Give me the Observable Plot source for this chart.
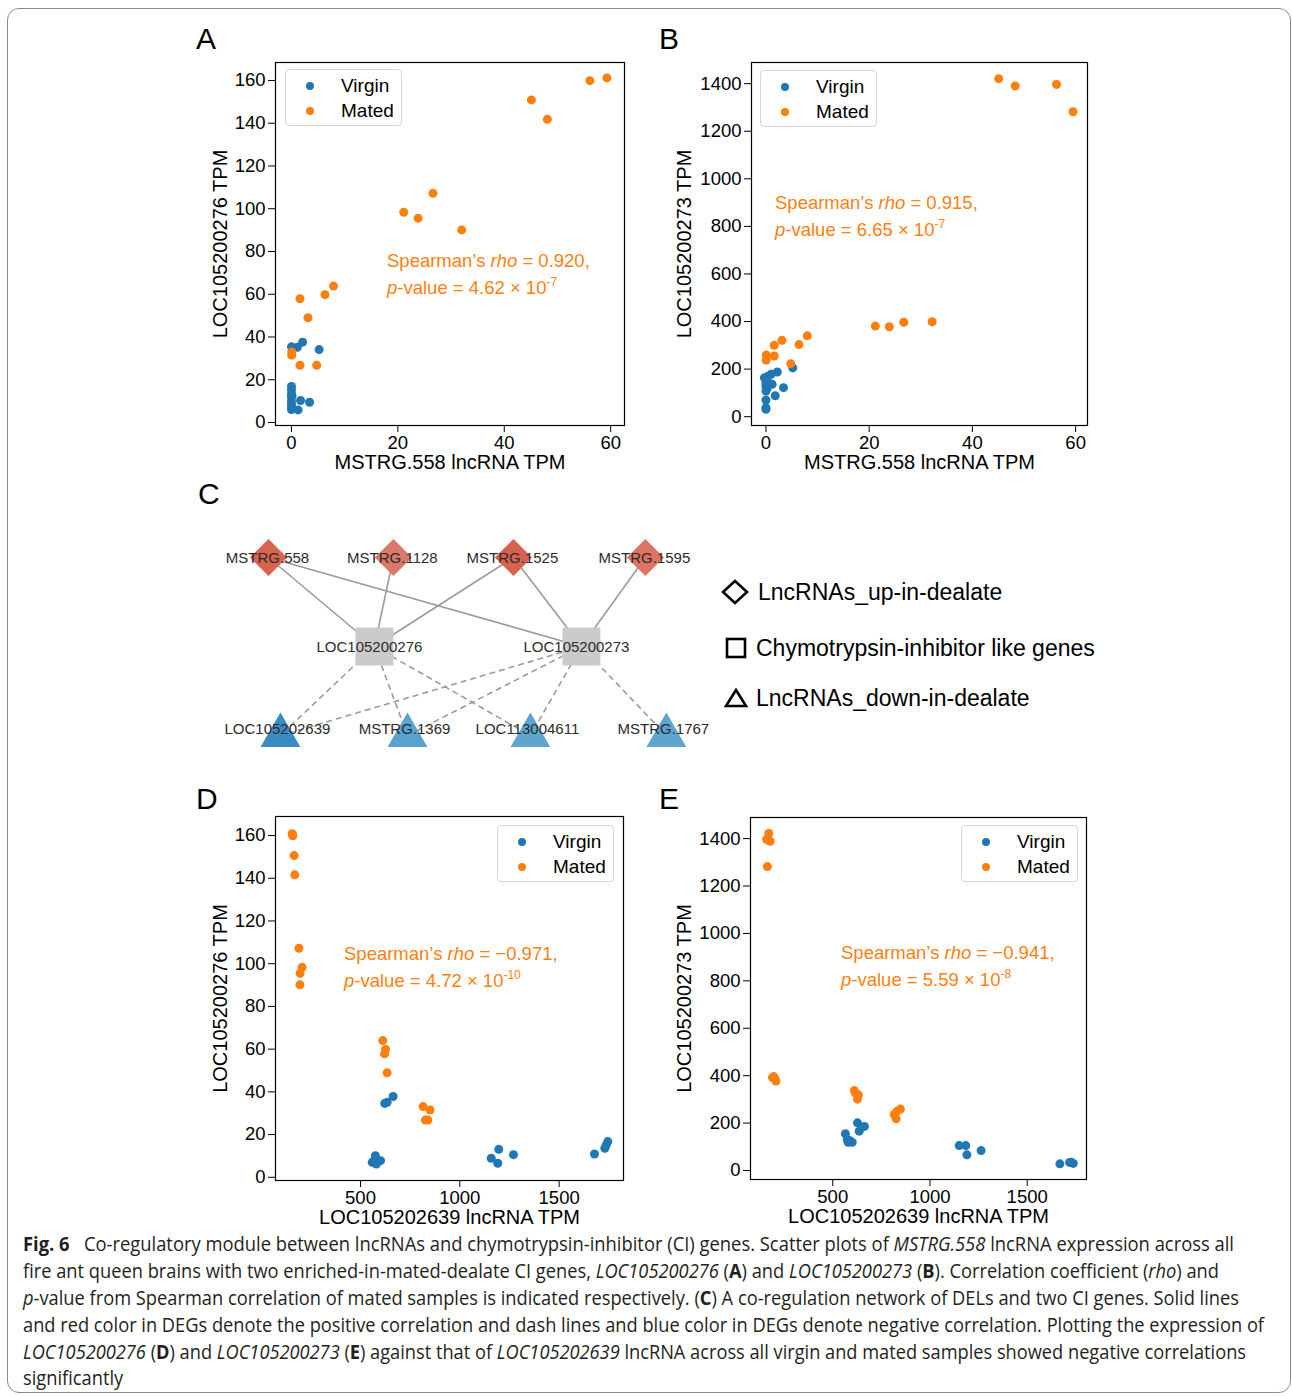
<!DOCTYPE html>
<html><head><meta charset="utf-8">
<script src="https://cdn.jsdelivr.net/npm/d3@7"></script>
<script src="https://cdn.jsdelivr.net/npm/@observablehq/plot@0.6"></script>
<style>
body{margin:0;background:#fff;}
#fig{position:relative;width:1292px;height:1396px;background:#fff;font-family:"Liberation Sans",Arial,sans-serif;overflow:hidden;color:#000}
.border{position:absolute;left:7px;top:8px;width:1284px;height:1385px;border:1px solid #8a8a8a;border-radius:12px;box-sizing:border-box}
.letter{position:absolute;font-size:30px;line-height:30px;color:#000}
.legend{position:absolute;width:117px;height:57px;border:1px solid #d6d6d6;border-radius:4px;background:rgba(255,255,255,0.85);box-sizing:border-box;font-size:19px}
.legend .dot{position:absolute;width:8px;height:8px;border-radius:50%;left:20px}
.legend .lab{position:absolute;left:55px;line-height:20px}
.annot{position:absolute;color:#ff7f0e;font-size:18.5px;line-height:26.6px;white-space:nowrap}
.annot sup{font-size:12px;vertical-align:0;position:relative;top:-8px}
.clegend{position:absolute;font-size:23px;line-height:26px;white-space:nowrap;color:#000}
.caption{position:absolute;left:23px;top:1231px;font-family:"Open Sans","Liberation Sans",Arial,sans-serif;font-size:20px;color:#231f20}
.caption .ln{height:26.9px;line-height:26.9px;white-space:nowrap}
.caption .ln span.inner{display:inline-block;transform-origin:0 50%}
</style>
</head><body><div id="fig"><div class="border"></div></div>
<script>
// ---------- DATA ----------
const groups = ["Virgin", "Mated"];
// Panel A: MSTRG.558 lncRNA TPM vs LOC105200276 TPM
const aVirginX = [0, 1.1, 2.1, 5.2, 0, 0, 0, 0, 0, 0, 0, 0, 1.25, 1.7, 3.4, 0.1];
const aVirginY = [35.4, 35.2, 37.6, 34.1, 16.9, 15.2, 13.4, 11.8, 9.9, 8.3, 7.2, 6.1, 5.9, 10.3, 9.5, 12.5];
const aMatedX = [59.3, 56.1, 45.1, 48.1, 26.6, 21.1, 23.8, 32.0, 7.9, 6.3, 1.6, 3.1, 0.05, 0.05, 1.6, 4.75];
const aMatedY = [161.2, 159.9, 150.9, 141.8, 107.2, 98.3, 95.6, 90.1, 63.8, 59.8, 57.9, 49.0, 33.0, 31.5, 26.8, 26.8];
// Panel B: MSTRG.558 lncRNA TPM vs LOC105200273 TPM
const bVirginX = [5.2, 2.2, 1.0, -0.3, 0, 0, 0, 0, 0, 0, 1.2, 1.8, 3.4, 0.4, 0, 0.2];
const bVirginY = [205, 188, 178, 164, 150, 129, 108, 70, 38, 31, 136, 88, 122, 170, 140, 118];
const bMatedX = [45.1, 48.3, 56.3, 59.5, 21.2, 23.9, 26.7, 32.2, 8.0, 6.4, 3.1, 1.6, 0.05, 0.05, 1.6, 4.8];
const bMatedY = [1421, 1390, 1397, 1282, 381, 378, 397, 399, 340, 303, 321, 300, 259, 238, 255, 223];
// Panel D: LOC105202639 lncRNA TPM vs LOC105200276 TPM
const dVirginX = [622, 634, 664, 559, 575, 580, 601, 571, 1158, 1196, 1191, 1270, 1678, 1730, 1745, 1737];
const dVirginY = [34.6, 35.1, 37.8, 7.0, 10.1, 6.2, 7.8, 8.1, 8.9, 13.1, 6.6, 10.6, 10.9, 13.6, 16.7, 15.1];
const dMatedX = [156, 159, 166, 169, 190, 206, 196, 195, 612, 626, 621, 634, 815, 850, 827, 839];
const dMatedY = [160.8, 159.9, 150.6, 141.6, 107.2, 98.3, 95.5, 90.1, 64, 59.8, 57.8, 48.9, 33.1, 31.5, 26.8, 26.8];
// Panel E: LOC105202639 lncRNA TPM vs LOC105200273 TPM
const eVirginX = [627, 663, 636, 565, 579, 600, 586, 575, 1150, 1184, 1190, 1263, 1668, 1718, 1737, 1726];
const eVirginY = [201, 186, 166, 155, 119, 119, 127, 130, 105, 105, 66, 84, 28, 34, 30, 35];
const eMatedX = [171, 160, 178, 164, 196, 202, 208, 190, 611, 617, 632, 627, 816, 831, 848, 826];
const eMatedY = [1422, 1396, 1389, 1282, 396, 387, 377, 392, 337, 327, 319, 301, 236, 250, 259, 218];
// Tick labels
const ticksTPMsmall = [0, 20, 40, 60, 80, 100, 120, 140, 160];
const ticksTPMlarge = [0, 200, 400, 600, 800, 1000, 1200, 1400];
const ticksMSTRG = [0, 20, 40, 60];
const ticksLOC = [500, 1000, 1500];
// Panel C network
const nodeNames = ["MSTRG.558", "MSTRG.1128", "MSTRG.1525", "MSTRG.1595", "LOC105200276", "LOC105200273", "LOC105202639", "MSTRG.1369", "LOC113004611", "MSTRG.1767"];
const nodeGroups = ["up", "up", "up", "up", "ci", "ci", "down", "down", "down", "down"];
const nodeRow = [0, 0, 0, 0, 1, 1, 2, 2, 2, 2];
const nodeSlot = [0, 0.994, 1.949, 2.999, 0.843, 2.49, 0.095, 1.106, 2.084, 3.166];
const positiveEdges = [["MSTRG.558", "LOC105200276"], ["MSTRG.558", "LOC105200273"], ["MSTRG.1128", "LOC105200276"], ["MSTRG.1525", "LOC105200276"], ["MSTRG.1525", "LOC105200273"], ["MSTRG.1595", "LOC105200273"]];
const negativeEdges = [["LOC105200276", "LOC105202639"], ["LOC105200276", "MSTRG.1369"], ["LOC105200276", "LOC113004611"], ["LOC105200273", "LOC105202639"], ["LOC105200273", "MSTRG.1369"], ["LOC105200273", "LOC113004611"], ["LOC105200273", "MSTRG.1767"]];
const legendCLabels = ["LncRNAs_up-in-dealate", "Chymotrypsin-inhibitor like genes", "LncRNAs_down-in-dealate"];

// ---------- STYLES ----------
const BLUE = "#1f77b4", ORANGE = "#ff7f0e";
const nodeFill = {"MSTRG.558": "#d9654f", "MSTRG.1128": "#dc7869", "MSTRG.1525": "#d8614f", "MSTRG.1595": "#dc7464",
  "LOC105200276": "#cbcbcb", "LOC105200273": "#cbcbcb",
  "LOC105202639": "#3b8bc3", "MSTRG.1369": "#5ba3cf", "LOC113004611": "#5ea6d0", "MSTRG.1767": "#5ea6d0"};

const fig = document.getElementById("fig");
const zip = (xs, ys, g) => xs.map((x, i) => ({x, y: ys[i], group: g}));

function el(tag, cls, html, css, parent) {
  const e = document.createElement(tag);
  if (cls) e.className = cls;
  if (html != null) e.innerHTML = html;
  if (css) Object.assign(e.style, css);
  (parent || fig).appendChild(e);
  return e;
}

function scatter(o) {
  const mL = 100, mR = 12, mT = 12, mB = 60;
  const {l, r, t, b} = o.frame;
  const virgin = zip(o.vx, o.vy, groups[0]);
  const mated = zip(o.mx, o.my, groups[1]);
  const p = Plot.plot({
    width: (r - l) + mL + mR, height: (b - t) + mT + mB,
    marginLeft: mL, marginRight: mR, marginTop: mT, marginBottom: mB,
    x: {domain: o.xDomain}, y: {domain: o.yDomain},
    style: {fontFamily: '"Liberation Sans", Arial, sans-serif', fontSize: "18.5px", color: "#000", background: "transparent", overflow: "visible"},
    marks: [
      Plot.axisX({ticks: o.xTicks, tickSize: 7, tickPadding: 3, label: null, tickFormat: d => String(d), fontSize: 18.5}),
      Plot.axisY({ticks: o.yTicks, tickSize: 7, tickPadding: 3, label: null, tickFormat: d => String(d), fontSize: 18.5}),
      Plot.dot(virgin, {x: "x", y: "y", r: 4.5, fill: BLUE}),
      Plot.dot(mated, {x: "x", y: "y", r: 4.5, fill: ORANGE}),
      Plot.frame({stroke: "#000", strokeWidth: 1.2}),
      Plot.text([o.xLabel], {text: d => d, frameAnchor: "bottom", textAnchor: "middle", lineAnchor: "middle", dy: 37, fontSize: 20}),
      Plot.text([o.yLabel], {text: d => d, frameAnchor: "left", textAnchor: "middle", lineAnchor: "middle", dx: -o.yLabelDx, rotate: -90, fontSize: 20})
    ]
  });
  p.style.position = "absolute";
  p.style.left = (l - mL) + "px";
  p.style.top = (t - mT) + "px";
  fig.appendChild(p);
  // legend
  const lg = el("div", "legend", null, {left: o.legend[0] + "px", top: o.legend[1] + "px"});
  groups.forEach((g, i) => {
    el("div", "dot", null, {background: i === 0 ? BLUE : ORANGE, top: (12 + i * 25) + "px"}, lg);
    el("div", "lab", g, {top: (6 + i * 25) + "px"}, lg).textContent = g;
  });
  // annotation
  el("div", "annot", o.annot, {left: o.annotPos[0] + "px", top: o.annotPos[1] + "px"});
  el("div", "letter", o.letter, {left: o.letterPos[0] + "px", top: o.letterPos[1] + "px"});
}

scatter({letter: "A", letterPos: [196, 24], frame: {l: 275, r: 624, t: 62, b: 425},
  vx: aVirginX, vy: aVirginY, mx: aMatedX, my: aMatedY,
  xDomain: [-3, 62.6], yDomain: [-1.4, 168.4], xTicks: ticksMSTRG, yTicks: ticksTPMsmall,
  xLabel: "MSTRG.558 lncRNA TPM", yLabel: "LOC105200276 TPM", yLabelDx: 55,
  legend: [285, 69], annotPos: [387, 248],
  annot: "Spearman’s <i>rho</i> = 0.920,<br><i>p</i>-value = 4.62 × 10<sup>-7</sup>"});

scatter({letter: "B", letterPos: [659, 24], frame: {l: 751, r: 1087, t: 62, b: 425},
  vx: bVirginX, vy: bVirginY, mx: bMatedX, my: bMatedY,
  xDomain: [-2.8, 62.3], yDomain: [-37, 1489], xTicks: ticksMSTRG, yTicks: ticksTPMlarge,
  xLabel: "MSTRG.558 lncRNA TPM", yLabel: "LOC105200273 TPM", yLabelDx: 67,
  legend: [760, 70], annotPos: [775, 190],
  annot: "Spearman’s <i>rho</i> = 0.915,<br><i>p</i>-value = 6.65 × 10<sup>-7</sup>"});

scatter({letter: "D", letterPos: [196, 784], frame: {l: 275, r: 623, t: 816, b: 1180},
  vx: dVirginX, vy: dVirginY, mx: dMatedX, my: dMatedY,
  xDomain: [72, 1824], yDomain: [-1.5, 168.9], xTicks: ticksLOC, yTicks: ticksTPMsmall,
  xLabel: "LOC105202639 lncRNA TPM", yLabel: "LOC105200276 TPM", yLabelDx: 55,
  legend: [497, 825], annotPos: [344, 941],
  annot: "Spearman’s <i>rho</i> = −0.971,<br><i>p</i>-value = 4.72 × 10<sup>-10</sup>"});

scatter({letter: "E", letterPos: [659, 784], frame: {l: 750, r: 1086, t: 817, b: 1179},
  vx: eVirginX, vy: eVirginY, mx: eMatedX, my: eMatedY,
  xDomain: [77, 1805], yDomain: [-38, 1489], xTicks: ticksLOC, yTicks: ticksTPMlarge,
  xLabel: "LOC105202639 lncRNA TPM", yLabel: "LOC105200273 TPM", yLabelDx: 66,
  legend: [961, 825], annotPos: [841, 940],
  annot: "Spearman’s <i>rho</i> = −0.941,<br><i>p</i>-value = 5.59 × 10<sup>-8</sup>"});

// ---------- Panel C network ----------
el("div", "letter", "C", {left: "198px", top: "479px"});
const nodes = nodeNames.map((n, i) => ({name: n, group: nodeGroups[i], row: nodeRow[i], slot: nodeSlot[i]}));
const byName = new Map(nodes.map(n => [n.name, n]));
const mkLinks = (edges) => edges.map(([s, t]) => ({s: byName.get(s), t: byName.get(t)}));
const posLinks = mkLinks(positiveEdges), negLinks = mkLinks(negativeEdges);
const linkOpts = {x1: d => d.s.slot, y1: d => d.s.row, x2: d => d.t.slot, y2: d => d.t.row, stroke: "#9b9b9b", strokeWidth: 1.6};
const up = nodes.filter(d => d.group === "up"), ci = nodes.filter(d => d.group === "ci"), down = nodes.filter(d => d.group === "down");
const txt = {x: "slot", y: "row", text: "name", fontSize: 15, fill: "#2b2b2b"};
const net = Plot.plot({
  width: 520, height: 240, margin: 0,
  x: {domain: [0, 3], range: [68, 445], axis: null},
  y: {domain: [0, 2], range: [37, 215], axis: null},
  style: {fontFamily: '"Liberation Sans", Arial, sans-serif', background: "transparent", overflow: "visible"},
  marks: [
    Plot.link(posLinks, linkOpts),
    Plot.link(negLinks, {...linkOpts, strokeDasharray: "6,4"}),
    Plot.dot(up, {x: "slot", y: "row", symbol: "diamond2", r: 16.7, fill: d => nodeFill[d.name]}),
    Plot.dot(ci, {x: "slot", y: "row", symbol: "square", r: 21.4, fill: d => nodeFill[d.name]}),
    Plot.dot(down, {x: "slot", y: "row", symbol: "triangle", r: 14.8, fill: d => nodeFill[d.name]}),
    Plot.text(up, {...txt, dx: -1, dy: 1}),
    Plot.text(ci, {...txt, dx: -5, dy: 1}),
    Plot.text(down, {...txt, dx: -3, dy: -6})
  ]
});
net.style.position = "absolute"; net.style.left = "200px"; net.style.top = "520px";
fig.appendChild(net);

// legend of panel C
const symSvgs = [
  '<svg width="30" height="30" viewBox="-15 -15 30 30"><polygon points="0,-11 12,0 0,11 -12,0" fill="none" stroke="#000" stroke-width="2.6"/></svg>',
  '<svg width="30" height="30" viewBox="-15 -15 30 30"><rect x="-9" y="-9" width="18" height="18" fill="none" stroke="#000" stroke-width="2.6"/></svg>',
  '<svg width="30" height="30" viewBox="-15 -15 30 30"><polygon points="0,-8 10,8 -10,8" fill="none" stroke="#000" stroke-width="2.6"/></svg>'
];
const legCY = [592, 648, 698], legSX = [735, 736, 736], legTX = [758, 756, 756];
legendCLabels.forEach((t, i) => {
  el("div", null, symSvgs[i], {position: "absolute", left: (legSX[i] - 15) + "px", top: (legCY[i] - 15) + "px", width: "30px", height: "30px", lineHeight: "0"});
  el("div", "clegend", t, {left: legTX[i] + "px", top: (legCY[i] - 13) + "px"});
});

// ---------- Caption ----------
const captionLines = [
  "<b>Fig. 6</b>&nbsp;&nbsp; Co-regulatory module between lncRNAs and chymotrypsin-inhibitor (CI) genes. Scatter plots of <i>MSTRG.558</i> lncRNA expression across all",
  "fire ant queen brains with two enriched-in-mated-dealate CI genes, <i>LOC105200276</i> (<b>A</b>) and <i>LOC105200273</i> (<b>B</b>). Correlation coefficient (<i>rho</i>) and",
  "<i>p</i>-value from Spearman correlation of mated samples is indicated respectively. (<b>C</b>) A co-regulation network of DELs and two CI genes. Solid lines",
  "and red color in DEGs denote the positive correlation and dash lines and blue color in DEGs denote negative correlation. Plotting the expression of",
  "<i>LOC105200276</i> (<b>D</b>) and <i>LOC105200273</i> (<b>E</b>) against that of <i>LOC105202639</i> lncRNA across all virgin and mated samples showed negative correlations",
  "significantly"
];
const captionWidths = [1211, 1196, 1216, 1241, 1223, null];
const cap = el("div", "caption");
const inners = captionLines.map(h => {
  const d = el("div", "ln", null, null, cap);
  return el("span", "inner", h, null, d);
});
const scales = inners.map((s, i) => captionWidths[i] ? captionWidths[i] / s.getBoundingClientRect().width : null);
const known = scales.filter(v => v);
const meanScale = known.reduce((a, b) => a + b, 0) / known.length;
inners.forEach((s, i) => { s.style.transform = `scaleX(${scales[i] || meanScale})`; });
</script>
</body></html>
